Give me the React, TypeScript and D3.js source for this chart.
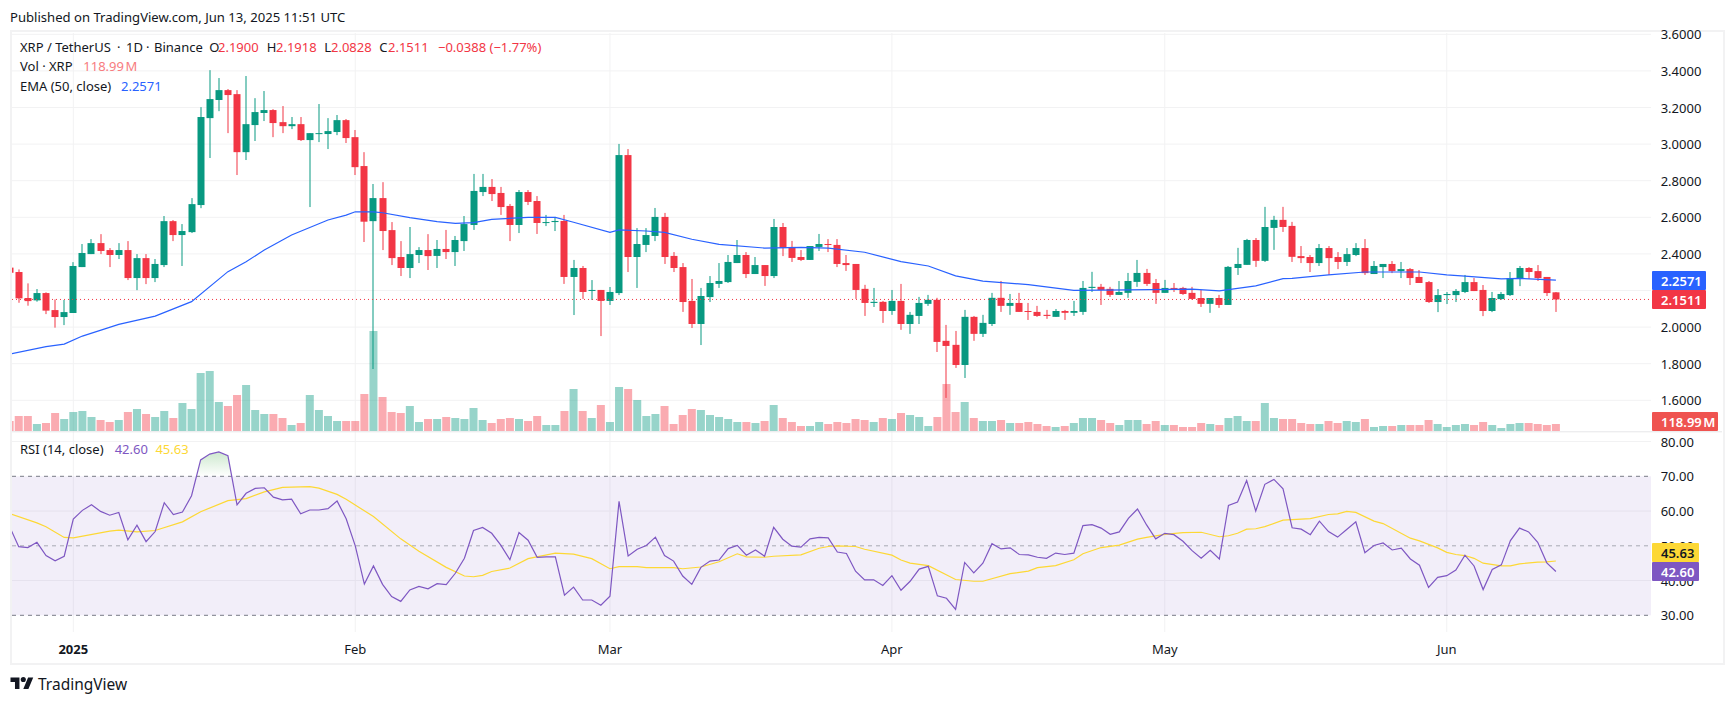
import React from "react";
import * as d3 from "d3";

const opens = [
  2.325,2.301,2.159,2.146,2.186,2.093,2.055,
  2.077,2.328,2.399,2.459,2.421,2.394,2.421,2.268,2.377,2.268,2.339,2.579,2.503,2.519,2.667,3.142,3.241,3.295,3.273,2.956,3.104,3.170,3.186,3.120,3.098,3.109,3.022,3.056,3.055,3.066,3.131,
  3.038,2.880,2.579,2.705,2.530,2.383,2.323,2.394,2.421,2.389,2.427,2.410,2.470,2.558,2.738,2.766,2.733,2.662,2.558,2.738,2.689,2.571,2.574,2.580,2.274,2.323,2.199,2.203,
  2.143,2.186,2.940,2.383,2.449,2.498,2.602,2.389,2.328,2.143,2.017,2.164,2.236,2.246,2.350,2.394,2.290,2.339,2.279,2.547,2.438,2.383,2.367,2.438,2.454,2.449,2.350,2.345,2.209,2.132,2.138,
  2.088,2.143,2.017,2.061,2.127,2.149,1.925,1.903,1.793,2.056,1.963,2.017,2.160,2.116,2.132,2.088,2.083,2.067,2.056,2.088,2.078,2.083,2.214,2.220,2.209,2.176,2.187,2.247,2.296,2.241,
  2.187,2.214,2.214,2.187,2.159,2.127,2.159,2.121,2.323,2.340,2.476,2.362,2.542,2.586,2.553,2.388,2.383,2.350,2.432,2.383,2.356,2.394,2.432,2.290,2.328,2.345,2.306,2.317,2.274,2.246,2.137,
  2.175,2.175,2.192,2.246,2.203,2.088,2.153,2.175,2.263,2.323,2.306,2.274,2.190,
];
const highs = [
  2.34,2.315,2.239,2.208,2.19,2.151,2.148,
  2.355,2.454,2.481,2.508,2.432,2.459,2.470,2.399,2.399,2.372,2.607,2.585,2.563,2.705,3.202,3.404,3.361,3.301,3.295,3.372,3.251,3.290,3.191,3.208,3.148,3.148,3.060,3.219,3.142,3.159,3.137,
  3.077,2.956,2.782,2.792,2.574,2.470,2.547,2.437,2.508,2.476,2.531,2.498,2.607,2.837,2.837,2.809,2.766,2.673,2.749,2.749,2.716,2.613,2.602,2.613,2.367,2.334,2.257,2.203,
  2.219,3.001,2.973,2.541,2.541,2.651,2.624,2.410,2.350,2.263,2.214,2.279,2.350,2.394,2.476,2.410,2.383,2.339,2.591,2.569,2.471,2.421,2.443,2.509,2.481,2.481,2.394,2.345,2.231,2.214,2.143,
  2.203,2.236,2.083,2.165,2.176,2.160,2.012,1.979,2.094,2.061,2.067,2.187,2.252,2.181,2.187,2.132,2.116,2.094,2.099,2.094,2.143,2.252,2.302,2.236,2.220,2.252,2.296,2.367,2.318,2.263,
  2.258,2.241,2.220,2.220,2.203,2.159,2.176,2.334,2.433,2.482,2.487,2.657,2.608,2.657,2.575,2.443,2.394,2.454,2.443,2.410,2.432,2.459,2.481,2.361,2.345,2.361,2.356,2.323,2.312,2.252,2.208,
  2.192,2.208,2.285,2.268,2.230,2.192,2.192,2.301,2.334,2.328,2.339,2.274,2.1918,
];
const lows = [
  2.29,2.133,2.117,2.139,2.071,1.997,2.011,
  2.077,2.328,2.399,2.399,2.328,2.372,2.257,2.202,2.235,2.246,2.328,2.470,2.334,2.514,2.650,2.924,3.180,3.060,2.831,2.913,3.017,3.126,3.038,3.060,3.082,3.017,2.656,3.011,2.973,3.049,3.006,
  2.831,2.465,1.771,2.421,2.339,2.279,2.268,2.350,2.312,2.323,2.372,2.334,2.416,2.531,2.716,2.689,2.613,2.470,2.514,2.667,2.509,2.552,2.525,2.236,2.066,2.154,2.148,1.951,
  2.121,2.175,2.301,2.214,2.410,2.470,2.345,2.301,2.083,1.995,1.902,2.137,2.214,2.241,2.350,2.268,2.290,2.225,2.268,2.388,2.356,2.361,2.367,2.416,2.410,2.328,2.307,2.154,2.061,2.110,2.023,
  2.067,1.985,1.963,2.017,2.116,1.864,1.613,1.777,1.722,1.925,1.946,2.006,2.083,2.067,2.083,2.039,2.056,2.045,2.056,2.039,2.061,2.067,2.192,2.121,2.165,2.176,2.160,2.220,2.225,2.127,
  2.187,2.192,2.176,2.149,2.110,2.078,2.105,2.121,2.285,2.340,2.329,2.356,2.422,2.520,2.356,2.350,2.301,2.334,2.285,2.317,2.334,2.388,2.285,2.290,2.268,2.295,2.268,2.230,2.241,2.132,2.082,
  2.126,2.137,2.186,2.197,2.060,2.082,2.148,2.170,2.224,2.263,2.252,2.170,2.0828,
];
const closes = [
  2.297,2.157,2.142,2.186,2.090,2.055,2.082,
  2.334,2.405,2.459,2.416,2.394,2.421,2.268,2.377,2.268,2.345,2.579,2.503,2.525,2.672,3.148,3.246,3.295,3.268,2.956,3.109,3.175,3.186,3.115,3.098,3.109,3.022,3.060,3.060,3.071,3.131,3.033,
  2.874,2.576,2.705,2.525,2.377,2.323,2.399,2.421,2.388,2.427,2.410,2.476,2.563,2.744,2.766,2.727,2.656,2.558,2.738,2.684,2.569,2.574,2.580,2.274,2.323,2.192,2.203,2.143,
  2.192,2.940,2.383,2.454,2.503,2.602,2.383,2.323,2.137,2.017,2.170,2.241,2.252,2.356,2.394,2.290,2.339,2.279,2.547,2.432,2.378,2.367,2.443,2.454,2.449,2.345,2.339,2.203,2.132,2.138,2.088,
  2.143,2.017,2.067,2.132,2.149,1.919,1.897,1.793,2.056,1.963,2.023,2.160,2.116,2.132,2.083,2.083,2.061,2.061,2.088,2.078,2.088,2.214,2.220,2.203,2.176,2.192,2.252,2.296,2.236,2.187,
  2.214,2.209,2.181,2.154,2.127,2.159,2.121,2.329,2.345,2.476,2.362,2.547,2.586,2.547,2.384,2.377,2.350,2.432,2.377,2.356,2.399,2.432,2.295,2.334,2.345,2.306,2.317,2.268,2.241,2.137,2.175,
  2.181,2.197,2.246,2.197,2.088,2.159,2.181,2.268,2.323,2.301,2.268,2.186,2.1511,
];
const volumes = [
  170,255,255,119,136,306,204,
  323,340,238,187,153,187,323,374,289,238,340,221,476,374,986,1020,493,425,612,782,357,289,289,221,102,136,612,357,255,170,170,
  170,629,1700,578,323,306,425,153,204,204,238,221,204,391,187,136,204,221,204,170,255,102,102,340,714,340,221,442,
  153,748,714,527,255,289,425,119,272,374,357,272,238,204,153,153,136,170,442,221,153,85,85,153,119,153,136,204,187,153,221,
  204,306,272,238,85,238,799,323,493,221,170,170,187,136,136,153,119,85,68,85,136,221,221,187,136,102,187,187,119,170,
  102,102,68,68,136,119,102,221,255,170,170,476,221,204,204,136,119,119,170,136,170,153,204,68,85,85,102,102,102,187,119,
  68,102,119,102,153,102,51,119,136,136,119,102,118.99,
];
const emaDays = [0,4,6,8,12,16,20,24,26,28,31,35,37,38,40,41,44,47,49,51,53,57,60,62,66,67,70,72,75,78,83,87,90,94,98,101,104,107,112,117,123,130,133,137,140,141,145,149,152,155,158,160,164,166,170];
const emaValues = [1.853,1.893,1.907,1.951,2.015,2.060,2.139,2.303,2.357,2.421,2.503,2.585,2.612,2.630,2.630,2.625,2.598,2.576,2.567,2.571,2.589,2.600,2.600,2.573,2.518,2.531,2.525,2.518,2.480,2.452,2.432,2.436,2.432,2.409,2.358,2.334,2.280,2.251,2.232,2.201,2.203,2.207,2.198,2.225,2.265,2.266,2.285,2.301,2.301,2.301,2.285,2.279,2.263,2.266,2.2571];
const rsiValues = [
  55.5,49.75,49.5,51,47.2,45.7,47,
  57.7,60.2,61.8,59.9,58.8,59.6,51.7,55.9,51.2,54.1,62.4,59,59.7,64.4,74.7,76.4,77,75.9,61.8,65.1,66.5,66.7,64,63.2,63.4,59.2,60.3,60.3,60.7,62.9,57.8,
  50,39,44.2,38.9,35.4,34,37.3,38.3,37.6,39.1,38.8,42.1,46.4,54.4,55.3,53.6,50.2,46,53.8,51.6,46.7,46.8,46.8,35.8,38.1,34.4,34.4,32.9,
  35.5,62.8,47.1,49,50.1,52.5,47.2,45.6,41.3,38.9,43.8,45.6,45.9,49.2,50.1,47.3,48.8,47,55.3,51.9,49.9,49.6,52,52.4,52.3,48.2,47.8,42.7,40.2,40.2,38.6,
  41.4,37.2,39.8,43.3,44.1,35.6,34.9,31.7,45.2,42.2,45,50.6,49.1,49.4,47.5,47.4,46.7,46.4,47.9,47.5,47.9,55.8,56.1,55.1,53.3,54,57.9,60.6,56,52,
  53.6,53.2,51.3,48.6,46.4,48.7,46.2,61.6,62.6,68.8,60,67.7,69.1,66.4,55.2,54.8,53.2,57.1,54.1,52.5,54.7,56.9,48,50.1,50.8,48.8,49.3,46.2,44.4,38,40.9,
  41.4,43,47.3,44.2,37.4,43.2,44.5,51.5,55.1,54,51,45.1,42.6,
];
const maDays = [0,3,4,6,7,11,12,14,16,19,21,24,26,28,30,33,34,36,37,40,43,45,48,50,51,52,53,55,57,60,62,64,66,67,69,70,73,74,76,78,80,81,83,84,87,89,90,91,93,94,97,98,99,101,104,106,107,110,112,113,115,117,118,120,122,124,125,127,129,131,133,134,135,136,137,138,140,143,145,146,147,148,150,151,154,155,157,158,159,160,161,162,164,165,166,168,169,170];
const maValues = [59.3,56.6,55.5,52.4,52.3,54.2,54.5,54,54.4,56.9,59.8,63,63.6,65.5,66.8,67,66.6,64.8,63.4,58.4,52,48.4,43.8,41.3,41.1,41.5,42.6,43.6,46.3,47.9,47.6,46.3,43.4,44,44,43.7,43.7,43.4,43.9,45.4,47.7,46.8,46.7,47,47.4,49.3,49.8,50,49.8,49,47.3,45.9,45,44.3,40.3,39.8,39.8,42,42.7,43.7,44.3,46,47.7,49.5,50.2,51.9,52.4,53.3,53.8,53.9,52.6,52.9,53.6,54.8,54.9,55.5,57.4,57.8,59,59.2,59.9,59.6,57.1,56.4,52.2,51.4,49.4,48.1,47.5,47.2,46.4,45,44.2,44.2,44.8,45.3,45.4,45.63];
const priceTicks = [3.6,3.4,3.2,3.0,2.8,2.6,2.4,2.2,2.0,1.8,1.6];
const rsiTicks = [80,70,60,50,40,30];
const monthTicks = [
  { day: 7, label: "2025", bold: true },
  { day: 38, label: "Feb", bold: false },
  { day: 66, label: "Mar", bold: false },
  { day: 97, label: "Apr", bold: false },
  { day: 127, label: "May", bold: false },
  { day: 158, label: "Jun", bold: false },
];

const GREEN = "#089981";
const RED = "#F23645";
const BLUE = "#2962FF";
const PURPLE = "#7E57C2";
const YELLOW = "#FDD835";
const GRID = "#F2F2F3";
const FONT = "'Noto Sans', sans-serif";

const LEFT = 12, PANE_R = 1651;
const x = d3.scaleLinear().domain([7, 170]).range([73.3, 1555.9]);
const yP = d3.scaleLinear().domain([1.6, 3.6]).range([400.3, 34.3]);
const yV = d3.scaleLinear().domain([0, 1700]).range([431, 331]);
const yR = d3.scaleLinear().domain([30, 70]).range([615.3, 476.3]);

const emaLine = d3.line<number>().x((_, i) => x(emaDays[i])).y((v) => yP(v));
const rsiLine = d3.line<number>().x((_, i) => x(i)).y((v) => yR(v));
const maLine = d3.line<number>().x((_, i) => x(maDays[i])).y((v) => yR(v));
const rsiArea = d3.area<number>().x((_, i) => x(i)).y0(yR(70)).y1((v) => yR(v));

const T = (p: any) => <text fontFamily={FONT} fontSize={13} fill="#131722" dominantBaseline="central" {...p} />;

function Tag({ y0, y1, x1, fill, color, label, unit }: any) {
  return (
    <g>
      <rect x={1652} y={y0} width={x1 - 1652} height={y1 - y0} rx={1} fill={fill} />
      <T x={1661} y={(y0 + y1) / 2} fill={color} fontWeight={600}>
        {label}{unit ? <tspan dx={1.5}>{unit}</tspan> : null}
      </T>
    </g>
  );
}

export default function App() {
  const lastClose = closes[closes.length - 1];
  return (
    <svg width={1734} height={703} style={{ position: "absolute", left: 0, top: 0, background: "#fff" }}>
      <defs>
        <clipPath id="pane"><rect x={LEFT} y={33} width={PANE_R - LEFT} height={398.5} /></clipPath>
        <clipPath id="rsiPane"><rect x={LEFT} y={434} width={PANE_R - LEFT} height={198} /></clipPath>
        <clipPath id="over"><rect x={LEFT} y={434} width={PANE_R - LEFT} height={yR(70) - 434} /></clipPath>
        <linearGradient id="obFill" x1="0" y1={yR(77)} x2="0" y2={yR(70)} gradientUnits="userSpaceOnUse">
          <stop offset="0" stopColor="#4CAF50" stopOpacity={0.28} />
          <stop offset="1" stopColor="#4CAF50" stopOpacity={0} />
        </linearGradient>
      </defs>

      <T x={10} y={16.7} fontSize={13.1}>Published on TradingView.com, Jun 13, 2025 11:51 UTC</T>

      <rect x={11} y={31} width={1713} height={633} fill="none" stroke={GRID} strokeWidth={2} />

      {/* grid */}
      {monthTicks.map((m) => (
        <line key={m.label} x1={x(m.day)} x2={x(m.day)} y1={33} y2={632} stroke={GRID} />
      ))}
      {priceTicks.map((t) => (
        <line key={t} x1={LEFT} x2={PANE_R} y1={yP(t)} y2={yP(t)} stroke={GRID} />
      ))}
      {rsiTicks.filter((t) => t % 20 === 0).map((t) => (
        <line key={t} x1={LEFT} x2={PANE_R} y1={yR(t)} y2={yR(t)} stroke={GRID} />
      ))}
      <line x1={LEFT} x2={1722} y1={431.8} y2={431.8} stroke="#E6E6E8" />

      {/* volume */}
      <g clipPath="url(#pane)">
        {volumes.map((v, i) => (
          <rect key={i} x={x(i) - 4} width={8} y={yV(v)} height={yV(0) - yV(v)}
            fill={closes[i] >= opens[i] ? GREEN : RED} fillOpacity={0.42} />
        ))}
        {/* candles */}
        {opens.map((o, i) => {
          const c = closes[i];
          const col = c >= o ? GREEN : RED;
          const top = yP(Math.max(o, c));
          const bot = yP(Math.min(o, c));
          return (
            <g key={i} fill={col}>
              <rect x={Math.round(x(i)) - 0.5} width={1} y={yP(highs[i])} height={yP(lows[i]) - yP(highs[i])} />
              <rect x={Math.round(x(i)) - 3.5} width={7} y={top} height={Math.max(1, bot - top)} />
            </g>
          );
        })}
        <path d={emaLine(emaValues) as string} fill="none" stroke={BLUE} strokeWidth={1.2} />
        <line x1={LEFT} x2={PANE_R} y1={yP(lastClose)} y2={yP(lastClose)} stroke={RED} strokeDasharray="1 3" />
      </g>

      {/* RSI pane */}
      <rect x={LEFT} y={yR(70)} width={PANE_R - LEFT} height={yR(30) - yR(70)} fill={PURPLE} fillOpacity={0.1} />
      {[70, 50, 30].map((t) => (
        <line key={t} x1={LEFT} x2={PANE_R} y1={yR(t)} y2={yR(t)} stroke="#787B86"
          strokeOpacity={t === 50 ? 0.6 : 1} strokeDasharray="4 4" />
      ))}
      <g clipPath="url(#rsiPane)">
        <path d={rsiArea(rsiValues) as string} fill="url(#obFill)" clipPath="url(#over)" />
        <path d={maLine(maValues) as string} fill="none" stroke={YELLOW} strokeWidth={1.2} />
        <path d={rsiLine(rsiValues) as string} fill="none" stroke={PURPLE} strokeWidth={1.2} />
      </g>

      {/* axis labels */}
      {priceTicks.filter((t) => t !== 2.2).map((t) => (
        <T key={t} x={1660.7} y={yP(t)}>{t.toFixed(4)}</T>
      ))}
      {rsiTicks.map((t) => (
        <T key={t} x={1660.7} y={yR(t)}>{t.toFixed(2)}</T>
      ))}
      {monthTicks.map((m) => (
        <T key={m.label} x={x(m.day)} y={648.5} textAnchor="middle" fontWeight={m.bold ? 700 : 400}>{m.label}</T>
      ))}

      {/* tags */}
      <Tag y0={271} y1={290} x1={1706} fill={BLUE} color="#fff" label="2.2571" />
      <Tag y0={290} y1={309} x1={1706} fill={RED} color="#fff" label="2.1511" />
      <Tag y0={412} y1={431} x1={1718} fill="#EF5350" color="#fff" label="118.99" unit="M" />
      <Tag y0={543} y1={562} x1={1699} fill={YELLOW} color="#131722" label="45.63" />
      <Tag y0={562} y1={581} x1={1699} fill={PURPLE} color="#fff" label="42.60" />

      {/* legends */}
      <T x={20} y={47.3}>XRP / TetherUS</T>
      <T x={117} y={47.3}>·</T><T x={126} y={47.3}>1D</T>
      <T x={146} y={47.3}>·</T><T x={154} y={47.3}>Binance</T>
      <T x={209.3} y={47.3}>O</T><T x={218} y={47.3} fill={RED}>2.1900</T>
      <T x={266.7} y={47.3}>H</T><T x={276} y={47.3} fill={RED}>2.1918</T>
      <T x={324.3} y={47.3}>L</T><T x={331} y={47.3} fill={RED}>2.0828</T>
      <T x={379.3} y={47.3}>C</T><T x={388} y={47.3} fill={RED}>2.1511</T>
      <T x={438} y={47.3} fill={RED}>−0.0388 (−1.77%)</T>
      <T x={20} y={66.3}>Vol · XRP</T>
      <T x={83.3} y={66.3} fill="#F77C80">118.99<tspan dx={1.5}>M</tspan></T>
      <T x={20} y={85.7}>EMA (50, close)</T>
      <T x={121} y={85.7} fill={BLUE}>2.2571</T>
      <T x={20} y={449.3}>RSI (14, close)</T>
      <T x={114.7} y={449.3} fill={PURPLE}>42.60</T>
      <T x={155.4} y={449.3} fill={YELLOW}>45.63</T>

      {/* logo */}
      <g transform="translate(10.5,675) scale(0.64)" fill="#131722">
        <path d="M14 22H7V11H0V4h14v18zM28 22h-8l7.5-18h8L28 22z" />
        <circle cx="20" cy="7" r="4" />
      </g>
      <T x={38} y={683.5} fontSize={15.5}>TradingView</T>
    </svg>
  );
}
